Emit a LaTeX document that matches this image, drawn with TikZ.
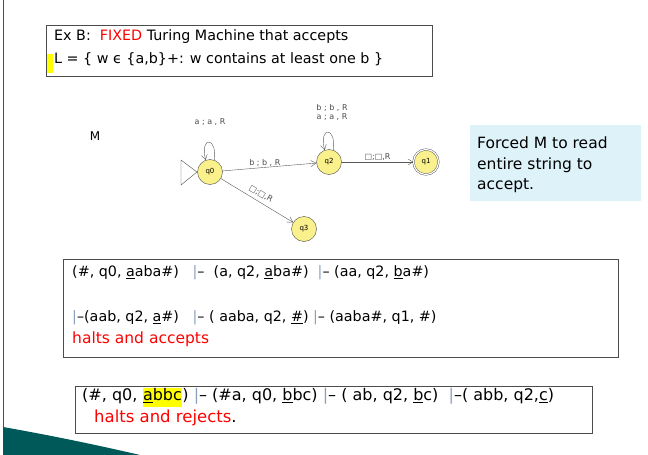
\documentclass[tikz,border=0pt]{standalone}
\usepackage{fontspec}
\setmainfont{DejaVu Sans}
\usetikzlibrary{arrows.meta}
\definecolor{stfill}{RGB}{250,240,140}
\definecolor{bluebox}{RGB}{222,242,250}
\definecolor{barc}{RGB}{140,160,190}
\definecolor{hl}{RGB}{255,255,0}
\newcommand{\tb}{\textcolor{barc}{|}–}
\newcommand{\ul}[1]{\underline{#1}}
\newcommand{\hlt}[1]{{\setlength\fboxsep{0.5pt}\colorbox{hl}{\strut #1}}}
\begin{document}
\begin{tikzpicture}[x=1pt,y=-1pt,
  st/.style={circle,draw=black!70,fill=stfill,minimum size=25pt,inner sep=0pt,font=\fontsize{7}{8}\selectfont},
  tr/.style={draw=black!65,-{Straight Barb[length=5pt,width=6pt]}},
  lab/.style={font=\fontsize{8}{9}\selectfont,text=black!70,inner sep=1pt},
  bx/.style={draw=black!70,line width=0.8pt},
  txt/.style={anchor=west,inner sep=0pt}]
\useasboundingbox (0,0) rectangle (648,455);
\fill[white] (0,0) rectangle (648,455);
\draw[black!70,line width=0.8pt] (3,0) -- (3,455);
\fill[teal!70!black] (3,427) .. controls (60,437) and (110,448) .. (140,455) -- (3,455) -- cycle;
% title box
\draw[bx] (46,25) rectangle (432,76);
\fill[hl] (47,54) rectangle (53,73);
\node[txt,font=\fontsize{14.3}{16}\selectfont] (t1) at (54,37) {Ex B:\ \ \textcolor{red}{FIXED} Turing Machine that accepts};
\node[txt,font=\fontsize{14.3}{16}\selectfont] (t2) at (54,59) {L = \{ w ϵ \{a,b\}+: w contains at least one b \}};
% machine
\node[font=\fontsize{12}{14}\selectfont] (m) at (95,136) {M};
\node[st] (q0) at (210,172) {q0};
\node[st] (q2) at (329,162) {q2};
\node[st,double,double distance=1.2pt] (q1) at (426,162) {q1};
\node[st] (q3) at (304,229) {q3};
\coordinate (s1) at (181,160); \coordinate (s2) at (181,185); \coordinate (s3) at (197,172);
\draw[black!70] (s1) -- (s3) -- (s2) -- cycle;
\draw[tr] (q0.70) .. controls +(3,-24) and +(-6,-24) .. (q0.110);
\node[lab] (la) at (210,122) {a ; a , R};
\draw[tr] (q2.70) .. controls +(3,-24) and +(-6,-24) .. (q2.110);
\node[lab,align=center] (lb) at (332,112) {b ; b , R\\a ; a , R};
\draw[tr] (q0) -- (q2) node[lab,pos=0.45,above] {b ; b , R};
\draw[tr] (q2) -- (q1) node[lab,midway,above] {□;□,R};
\draw[tr] (q0) -- (q3) node[lab,pos=0.5,above=3pt,sloped] {□;□,R};
% forced box
\node[fill=bluebox,minimum width=171pt,minimum height=76pt,anchor=north west,inner sep=0pt] (fb) at (470,125) {};
\node[anchor=north west,align=left,font=\fontsize{15.5}{20.5}\selectfont,inner sep=0pt] (ft) at (477,137) {Forced M to read\\entire string to\\accept.};
% box 2
\draw[bx] (63,259) rectangle (618,357);
\node[txt,font=\fontsize{14.3}{16}\selectfont] (l1) at (72,273) {(\#, q0, \ul{a}aba\#)\ \ \ \tb\ \ (a, q2, \ul{a}ba\#)\ \ \tb\ (aa, q2, \ul{b}a\#)};
\node[txt,font=\fontsize{14.3}{16}\selectfont] (l2) at (72,318) {\tb(aab, q2, \ul{a}\#)\ \ \ \tb\ ( aaba, q2, \ul{\#}) \tb\ (aaba\#, q1, \#)};
\node[txt,font=\fontsize{15.5}{18}\selectfont,text=red] (l3) at (72,339) {halts and accepts};
% box 3
\draw[bx] (75,386) rectangle (592,433);
\node[txt,font=\fontsize{16}{18}\selectfont] (r1) at (82,397) {(\#, q0, \hlt{\ul{a}bbc}) \tb\ (\#a, q0, \ul{b}bc) \tb\ ( ab, q2, \ul{b}c)\ \ \tb( abb, q2,\ul{c})};
\node[txt,font=\fontsize{16.5}{18}\selectfont] (r2) at (94,418) {\textcolor{red}{halts and rejects}.};
\end{tikzpicture}
\end{document}
